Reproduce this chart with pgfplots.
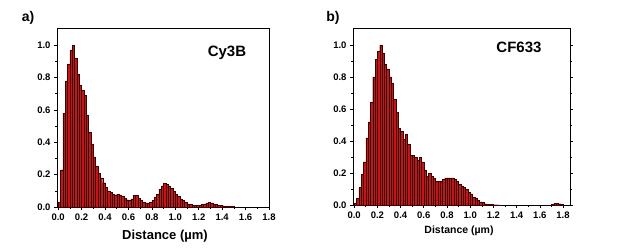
\documentclass[border=0pt]{standalone}
\usepackage{fontspec}
\setmainfont{Liberation Sans}
\usepackage{pgfplots}
\pgfplotsset{compat=1.18}
\definecolor{barred}{RGB}{192,24,24}
\definecolor{baredge}{RGB}{60,0,0}
\begin{document}
\begin{tikzpicture}
\useasboundingbox (0pt,0pt) rectangle (617pt,249pt);
\pgfplotsset{
  histo/.style={
    scale only axis, anchor=south west,
    ymin=0, ymax=1.1,
    ytick={0,0.2,...,1.0},
    minor x tick num=1, minor y tick num=1,
    tick align=outside, xtick pos=bottom,
    major tick length=3pt, minor tick length=2pt,
    axis line style={line width=1pt},
    every tick/.style={black, line width=0.6pt},
    /pgf/number format/assume math mode=true,
    /pgf/number format/fixed, /pgf/number format/fixed zerofill,
    /pgf/number format/precision=1,
    ticklabel style={font=\bfseries\fontsize{9.5}{10}\selectfont},
    xticklabel style={yshift=-0.5pt},
  },
  bars/.style={ybar, bar width=0.02, bar shift=0pt, fill=barred, draw=baredge, line width=0.35pt},
}
\begin{axis}[histo, at={(57pt,42pt)}, width=212pt, height=178pt,
  xmin=-0.01, xmax=1.8, xtick={0,0.2,...,1.8}, ytick pos=left]
\addplot[bars] coordinates {
(0.01,0.03)(0.03,0.23)(0.05,0.58)(0.07,0.78)(0.09,0.88)(0.11,0.97)(0.13,1.00)
(0.15,0.92)(0.17,0.82)(0.19,0.75)(0.21,0.72)(0.23,0.69)(0.25,0.57)(0.27,0.46)
(0.29,0.39)(0.31,0.31)(0.33,0.25)(0.35,0.21)(0.37,0.18)(0.39,0.15)(0.41,0.12)
(0.43,0.10)(0.45,0.09)(0.47,0.08)(0.49,0.075)(0.51,0.08)(0.53,0.075)(0.55,0.065)
(0.57,0.055)(0.59,0.045)(0.61,0.04)(0.63,0.05)(0.65,0.07)(0.67,0.07)(0.69,0.055)
(0.71,0.04)(0.73,0.03)(0.75,0.025)(0.77,0.025)(0.79,0.03)(0.81,0.04)(0.83,0.06)
(0.85,0.08)(0.87,0.11)(0.89,0.13)(0.91,0.145)(0.93,0.14)(0.95,0.13)(0.97,0.115)
(0.99,0.095)(1.01,0.08)(1.03,0.065)(1.05,0.05)(1.07,0.04)(1.09,0.03)(1.11,0.02)
(1.13,0.015)(1.15,0.012)(1.17,0.012)(1.19,0.012)(1.21,0.012)(1.23,0.015)(1.25,0.02)
(1.27,0.025)(1.29,0.028)(1.31,0.025)(1.33,0.02)(1.35,0.015)(1.37,0.01)(1.39,0.01)
(1.41,0.008)(1.43,0.006)(1.45,0.005)(1.47,0.004)(1.49,0.003)
};
\end{axis}
\begin{axis}[histo, at={(353pt,44pt)}, width=217pt, height=176pt,
  xmin=-0.01, xmax=1.86, xtick={0,0.2,...,1.8}, ytick pos=both]
\addplot[bars] coordinates {
(0.01,0.01)(0.03,0.04)(0.05,0.11)(0.07,0.19)(0.09,0.27)(0.11,0.42)(0.13,0.52)
(0.15,0.64)(0.17,0.80)(0.19,0.91)(0.21,0.96)(0.23,1.00)(0.25,0.95)(0.27,0.88)
(0.29,0.85)(0.31,0.80)(0.33,0.76)(0.35,0.66)(0.37,0.58)(0.39,0.48)(0.41,0.46)
(0.43,0.41)(0.45,0.44)(0.47,0.38)(0.49,0.31)(0.51,0.31)(0.53,0.30)(0.55,0.28)
(0.57,0.30)(0.59,0.27)(0.61,0.22)(0.63,0.18)(0.65,0.20)(0.67,0.18)(0.69,0.17)
(0.71,0.15)(0.73,0.15)(0.75,0.15)(0.77,0.16)(0.79,0.17)(0.81,0.17)(0.83,0.17)
(0.85,0.17)(0.87,0.16)(0.89,0.15)(0.91,0.13)(0.93,0.12)(0.95,0.11)(0.97,0.10)
(0.99,0.08)(1.01,0.07)(1.03,0.05)(1.05,0.04)(1.07,0.03)(1.09,0.02)(1.11,0.015)
(1.13,0.008)(1.15,0.005)(1.17,0.004)(1.19,0.003)(1.21,0.002)(1.23,0.002)(1.25,0.001)
(1.71,0.005)(1.73,0.01)(1.75,0.012)(1.77,0.008)(1.79,0.003)
};
\end{axis}
\node[font=\bfseries\fontsize{14}{16}\selectfont] at (28pt,231pt) {a)};
\node[font=\bfseries\fontsize{14}{16}\selectfont] at (333pt,231pt) {b)};
\node[font=\bfseries\fontsize{15}{17}\selectfont] at (227pt,196pt) {Cy3B};
\node[font=\bfseries\fontsize{15}{17}\selectfont] at (519pt,202pt) {CF633};
\node[font=\bfseries\fontsize{13}{15}\selectfont] at (165pt,13pt) {Distance (µm)};
\node[font=\bfseries\fontsize{10.5}{12}\selectfont] at (459pt,18pt) {Distance (µm)};
\end{tikzpicture}
\end{document}
